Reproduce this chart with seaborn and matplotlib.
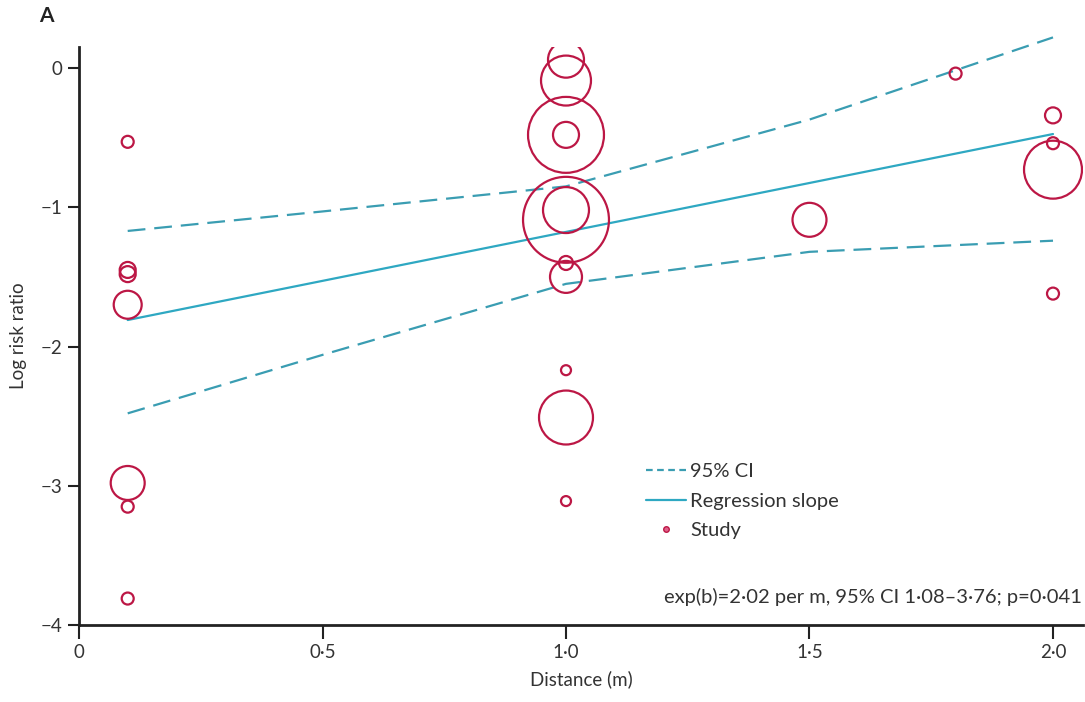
import numpy as np
import pandas as pd
import matplotlib
matplotlib.use("Agg")
import matplotlib.pyplot as plt
import seaborn as sns
from matplotlib.lines import Line2D

# ---- data ----
study_distance = [0.1, 0.1, 0.1, 0.1, 0.1, 0.1, 0.1,
                  1.0, 1.0, 1.0, 1.0, 1.0, 1.0, 1.0, 1.0, 1.0, 1.0, 1.0,
                  1.5, 1.8,
                  2.0, 2.0, 2.0, 2.0]
study_logrr = [-0.53, -1.45, -1.48, -1.70, -2.98, -3.15, -3.81,
               0.06, -0.09, -0.48, -0.48, -1.09, -1.02, -1.40, -1.50, -2.17, -2.51, -3.11,
               -1.09, -0.04,
               -0.34, -0.54, -0.73, -1.62]
study_weight = [3.6, 6.4, 6.4, 19.6, 28.9, 3.6, 3.6,
                32.4, 62.5, 144.4, 16.9, 184.9, 52.9, 4.9, 25.6, 2.5, 72.9, 2.5,
                28.9, 3.6,
                6.4, 3.6, 84.1, 3.6]

line_x = [0.1, 2.0]
slope_b = 0.703      # ln(2.02)
intercept_a = -1.88

ci_x = [0.1, 0.5, 1.0, 1.5, 2.0]
ci_upper = [-1.17, -1.03, -0.85, -0.37, 0.22]
ci_lower = [-2.48, -2.06, -1.55, -1.32, -1.24]

x_ticks = [0, 0.5, 1.0, 1.5, 2.0]
x_ticklabels = ["0", "0·5", "1·0", "1·5", "2·0"]
y_ticks = [0, -1, -2, -3, -4]
y_ticklabels = ["0", "\u22121", "\u22122", "\u22123", "\u22124"]

annotation = "exp(b)=2·02 per m, 95% CI 1·08–3·76; p=0·041"

# ---- plotting ----
sns.set_theme(style="white")
plt.rcParams['font.family'] = ['Lato', 'DejaVu Sans']

circle_col = "#BC1745"
solid_col = "#2EA8C2"
dash_col = "#3A9DB2"
text_col = "#333333"

fig = plt.figure(figsize=(10.85, 7.02), dpi=100)
ax = fig.add_axes([79 / 1085, 77 / 702, (1083 - 79) / 1085, (655 - 77) / 702])

df = pd.DataFrame({"x": study_distance, "y": study_logrr, "w": study_weight})
k = 20.7
sns.scatterplot(data=df, x="x", y="y", size="w",
                sizes=(min(study_weight) * k, max(study_weight) * k),
                size_norm=(min(study_weight), max(study_weight)),
                facecolors="none", edgecolor=circle_col, linewidth=1.6,
                legend=False, ax=ax, zorder=3)

lx = np.array(line_x)
sns.lineplot(x=lx, y=intercept_a + slope_b * lx, color=solid_col, lw=1.6, ax=ax, zorder=2)
sns.lineplot(x=ci_x, y=ci_upper, color=dash_col, lw=1.6, ax=ax, zorder=2)
sns.lineplot(x=ci_x, y=ci_lower, color=dash_col, lw=1.6, ax=ax, zorder=2)
for ln in ax.lines:
    ln.set_clip_on(False)
for ln in ax.lines[1:]:
    ln.set_dashes([8, 4])

ax.set_xlim(0, (1083 - 79) / 487)
ax.set_ylim(-4, (68 - 47) / 139)

ax.set_xticks(x_ticks)
ax.set_xticklabels(x_ticklabels)
ax.set_yticks(y_ticks)
ax.set_yticklabels(y_ticklabels)
ax.tick_params(axis="both", direction="out", length=8, width=1.5, colors="#222222",
               labelcolor=text_col, labelsize=13.5, bottom=True, left=True, pad=4)
ax.tick_params(axis="x", length=10)
for side in ["top", "right"]:
    ax.spines[side].set_visible(False)
for side in ["left", "bottom"]:
    ax.spines[side].set_color("#222222")
    ax.spines[side].set_linewidth(2.0)

ax.set_xlabel("Distance (m)", fontsize=13.5, color=text_col, labelpad=6)
ax.set_ylabel("Log risk ratio", fontsize=13.5, color=text_col, labelpad=10)

handles = [
    Line2D([0], [0], color=dash_col, lw=1.6, dashes=[3, 2]),
    Line2D([0], [0], color=solid_col, lw=1.6),
    Line2D([0], [0], marker="o", color="none", markerfacecolor="#E0608A",
           markeredgecolor=circle_col, markersize=4),
]
leg = ax.legend(handles, ["95% CI", "Regression slope", "Study"],
                loc="upper left", bbox_to_anchor=((638 - 79) / 1004, (625 - 455) / 578),
                frameon=False, fontsize=14.5, handlelength=2.0, handletextpad=0.2,
                labelspacing=0.62, borderaxespad=0)
for t in leg.get_texts():
    t.set_color(text_col)

ax.text(0.999, (625 - 597) / 578, annotation, transform=ax.transAxes,
        ha="right", va="center", fontsize=14.5, color=text_col)

fig.text(46 / 1085, 1 - 16 / 702, "A", fontsize=15, fontweight="bold",
         color="#222222", ha="center", va="center")

fig.savefig("out.png", dpi=100)
